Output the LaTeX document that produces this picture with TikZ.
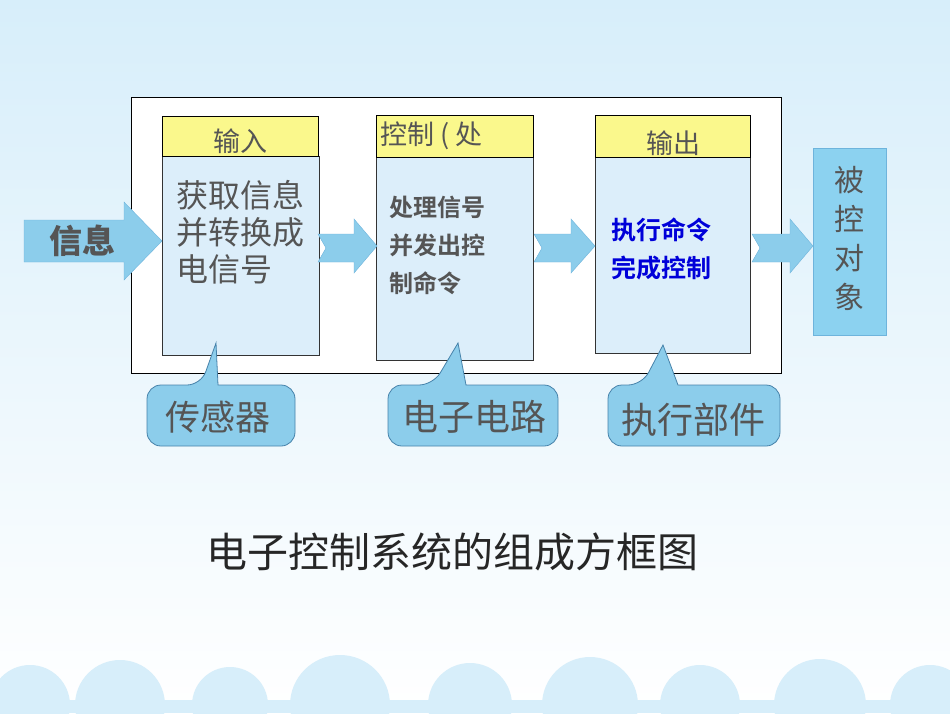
\documentclass[tikz,border=0pt]{standalone}
\usepackage{fontspec}
\setmainfont{Noto Sans CJK SC}
\newfontfamily\cjkb{Noto Sans CJK SC Bold}
\definecolor{bodyc}{RGB}{220,238,250}
\definecolor{arrc}{RGB}{140,205,235}
\definecolor{arrd}{RGB}{110,180,220}
\definecolor{callc}{RGB}{140,205,235}
\definecolor{calld}{RGB}{70,130,170}
\definecolor{yel}{RGB}{250,248,140}
\definecolor{tgt}{RGB}{140,210,240}
\definecolor{sky}{RGB}{215,238,250}
\definecolor{cloud}{RGB}{215,238,250}
\definecolor{gtx}{RGB}{85,85,85}
\begin{document}
\begin{tikzpicture}[x=1pt,y=-1pt,
  hdr/.style={draw=black,fill=yel,line width=0.6pt},
  bodyb/.style={draw=black!80,fill=bodyc,line width=0.6pt},
  arr/.style={fill=arrc,draw=arrd,line width=0.4pt},
  call/.style={fill=callc,draw=calld,line width=0.8pt,rounded corners=14pt},
  gtxt/.style={text=gtx},
  every node/.style={inner sep=0pt}]
\useasboundingbox (0,0) rectangle (950,713);
\begin{scope}
\clip (0,0) rectangle (950,713);
\fill[top color=sky,bottom color=white] (0,0) rectangle (950,713);
\fill[cloud] (0,713) rectangle (950,700);
\foreach \x/\r in {30/40,120/45,230/38,340/50,470/42,590/48,700/40,820/46,930/40}
  \fill[cloud] (\x,705) circle (\r);
\end{scope}
% outer frame
\draw[fill=white,line width=0.6pt] (131,97) rectangle (781,373);
% boxes
\draw[bodyb] (162,156) rectangle (319,355);
\draw[hdr] (162,116) rectangle (318,156);
\draw[bodyb] (376,157) rectangle (533,360);
\draw[hdr] (376,115) rectangle (533,157);
\draw[bodyb] (595,157) rectangle (750,353);
\draw[hdr] (595,115) rectangle (750,157);
\draw[fill=tgt,draw=arrd] (813,148) rectangle (886,335);
% arrows
\path[arr] (24,220) -- (124,220) -- (124,202) -- (162,241) -- (124,280) -- (124,262) -- (24,262) -- cycle;
\path[arr] (318,234) -- (354,234) -- (354,219) -- (377,246) -- (354,273) -- (354,262) -- (318,262) -- (326,248) -- cycle;
\path[arr] (534,234) -- (571,234) -- (571,219) -- (595,246) -- (571,273) -- (571,262) -- (534,262) -- (542,248) -- cycle;
\path[arr] (752,234) -- (790,234) -- (790,219) -- (813,246) -- (790,273) -- (790,262) -- (752,262) -- (760,248) -- cycle;
% callouts
\draw[call] (201,385) [sharp corners]-- (216,343) -- (218,385) [rounded corners=14pt] -- (295,385) -- (295,446) -- (147,446) -- (147,385) -- cycle;
\draw[call] (433,385) [sharp corners]-- (458,343) -- (466,385) [rounded corners=14pt] -- (558,385) -- (558,446) -- (388,446) -- (388,385) -- cycle;
\draw[call] (642,385) [sharp corners]-- (663,345) -- (678,385) [rounded corners=14pt] -- (780,385) -- (780,446) -- (608,446) -- (608,385) -- cycle;
% texts
\node[gtxt,font=\fontsize{33}{35}\selectfont\bfseries] (xx) at (82,241) {信息};
\node[gtxt,font=\fontsize{27}{29}\selectfont] (h1) at (240,141) {输入};
\node[gtxt,font=\fontsize{27}{29}\selectfont,anchor=west] (h2) at (380,136) {控制 ( 处};
\node[gtxt,font=\fontsize{27}{29}\selectfont] (h3) at (673,143) {输出};
\node[gtxt,font=\fontsize{32}{37}\selectfont,align=left,anchor=north west] (t1) at (176,180) {获取信息\\并转换成\\电信号};
\node[gtxt,font=\fontsize{24}{38}\selectfont\cjkb,align=left,anchor=north west] (t2) at (389,196) {处理信号\\并发出控\\制命令};
\node[text=blue!85!black,font=\fontsize{25}{38}\selectfont\cjkb,align=left,anchor=north west] (t3) at (611,218) {执行命令\\完成控制};
\node[gtxt,font=\fontsize{30}{39}\selectfont,align=center] (t4) at (849,238) {被\\控\\对\\象};
\node[gtxt,font=\fontsize{35}{37}\selectfont] (c1) at (218,417) {传感器};
\node[gtxt,font=\fontsize{36}{38}\selectfont] (c2) at (474,417) {电子电路};
\node[gtxt,font=\fontsize{36}{38}\selectfont] (c3) at (693,420) {执行部件};
\node[font=\fontsize{41}{43}\selectfont,text=black!85] (title) at (452,552) {电子控制系统的组成方框图};
\end{tikzpicture}
\end{document}
